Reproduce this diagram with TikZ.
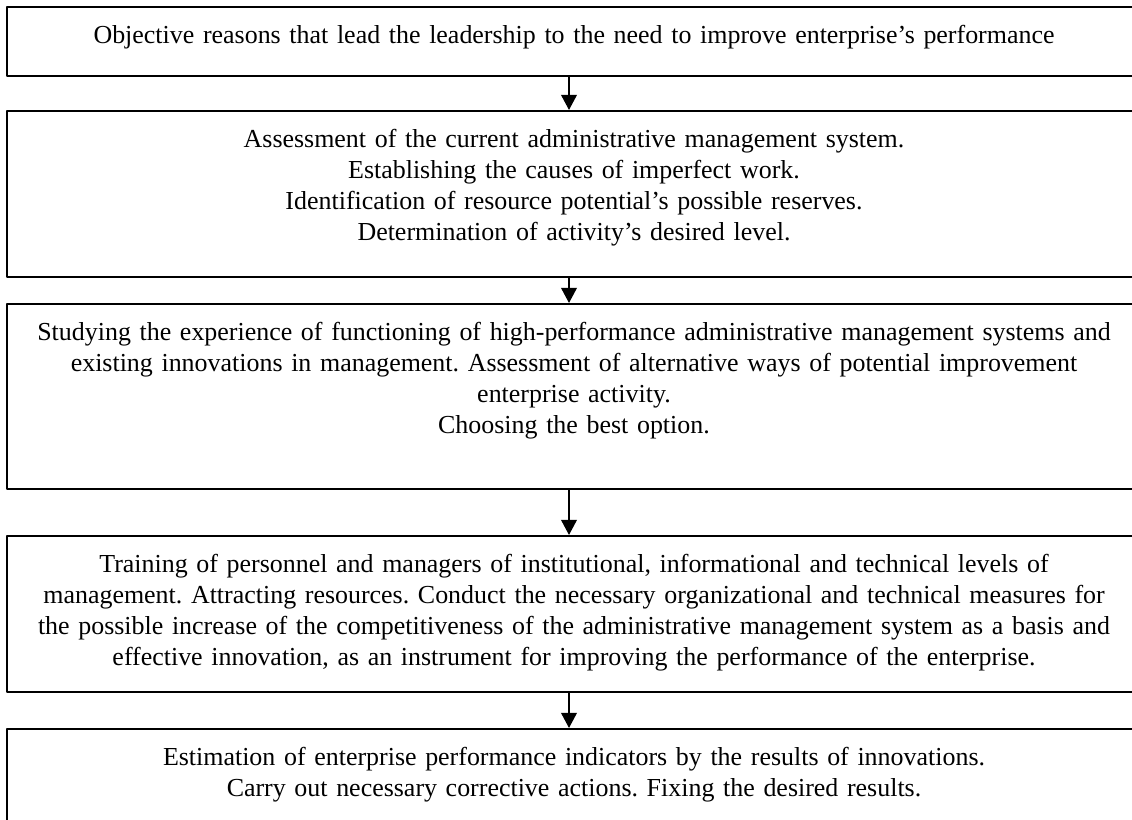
\documentclass[tikz,border=0pt]{standalone}
\usepackage{fontspec}
\setmainfont{Liberation Serif}
\usetikzlibrary{arrows.meta,fit}
\begin{document}
\frenchspacing
\begin{tikzpicture}[x=0.451pt,y=-0.451pt,line join=round,>={Triangle[length=6.8pt,width=7pt]}]
	\tikzset{stage/.style={draw,line width=0.9pt,inner sep=0pt},
		stage text/.style={anchor=base,inner sep=0pt,text width=510pt,align=center,font=\fontsize{11.7}{14}\selectfont},
		flow/.style={->,line width=0.9pt}}
	\useasboundingbox (0,0) rectangle (1132,820);
	\clip (0,0) rectangle (1132,820);
	\def\xl{7}
	\def\xr{1141}
	\def\down{-17pt}
	% boxes
	\node[stage,fit={(\xl,7) (\xr,76)}] (b1) {};
	\node[stage,fit={(\xl,111) (\xr,277)}] (b2) {};
	\node[stage,fit={(\xl,304) (\xr,489)}] (b3) {};
	\node[stage,fit={(\xl,536) (\xr,692)}] (b4) {};
	\node[stage,fit={(\xl,729) (\xr,840)}] (b5) {};
	% texts
	\node[stage text] (t1) at ([yshift=\down]b1.north) {Objective reasons that lead the leadership to the need to improve enterprise’s performance};
	\node[stage text] (t2) at ([yshift=\down]b2.north) {Assessment of the current administrative management system.\\
		Establishing the causes of imperfect work.\\
		Identification of resource potential’s possible reserves.\\
		Determination of activity’s desired level.};
	\node[stage text] (t3) at ([yshift=\down]b3.north) {Studying the experience of functioning of high-performance administrative management systems and\\
		existing innovations in management. Assessment of alternative ways of potential improvement\\
		enterprise activity.\\
		Choosing the best option.};
	\node[stage text] (t4) at ([yshift=\down]b4.north) {Training of personnel and managers of institutional, informational and technical levels of\\
		management. Attracting resources. Conduct the necessary organizational and technical measures for\\
		the possible increase of the competitiveness of the administrative management system as a basis and\\
		effective innovation, as an instrument for improving the performance of the enterprise.};
	\node[stage text] (t5) at ([yshift=\down]b5.north) {Estimation of enterprise performance indicators by the results of innovations.\\
		Carry out necessary corrective actions. Fixing the desired results.};
	% arrows
	\coordinate (axis) at (569,0);
	\foreach \a/\b in {b1/b2,b2/b3,b3/b4,b4/b5}
		\draw[flow] (\a.south -| axis) -- (\b.north -| axis);
\end{tikzpicture}
\end{document}
